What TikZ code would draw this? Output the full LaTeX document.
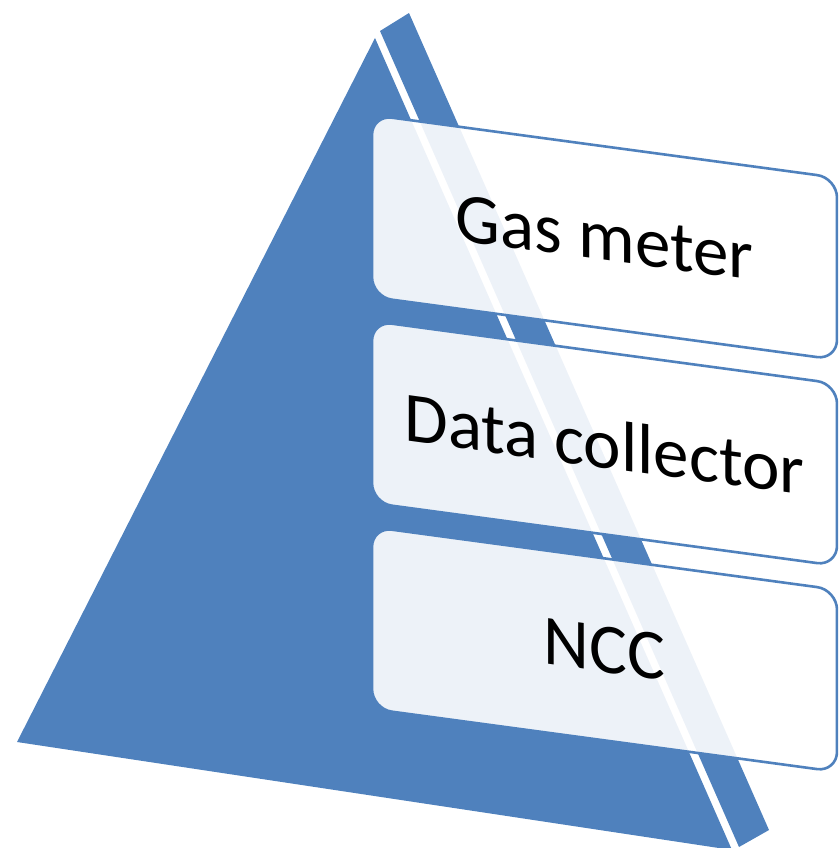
\documentclass[tikz,border=0pt]{standalone}
\usepackage{fontspec}
\setmainfont{Carlito}
\definecolor{pyrblue}{HTML}{4F81BD}
\tikzset{
  face/.style={fill=pyrblue, draw=none},
  levelbox/.style={draw=pyrblue, line width=2.6pt, fill=white, fill opacity=0.9,
    text opacity=1, rounded corners=20pt, minimum width=465pt, minimum height=182pt,
    inner sep=0pt, font=\fontsize{71}{85}\selectfont, text=black}
}
\begin{document}
\begin{tikzpicture}[x=1pt,y=-1pt]
  \useasboundingbox (0,0) rectangle (838,848);
  \clip (0,0) rectangle (838,848);
  % front face of the pyramid
  \fill[face] (375,38) -- (17,742) -- (732,850) -- cycle;
  % side face, separated from the front by a thin white gap
  \fill[face] (380,31) -- (409,13) -- (769,830) -- (739,847) -- cycle;
  % the three levels, seen at a slant
  \begin{scope}[shift={(372,0)}, yslant=-0.135]
    \node[levelbox, transform shape] (gas) at (232.5,206) {Gas meter};
    \node[levelbox, transform shape] (dc)  at (232.5,412) {Data collector};
    \node[levelbox, transform shape] (ncc) at (232.5,618) {NCC};
  \end{scope}
\end{tikzpicture}
\end{document}
